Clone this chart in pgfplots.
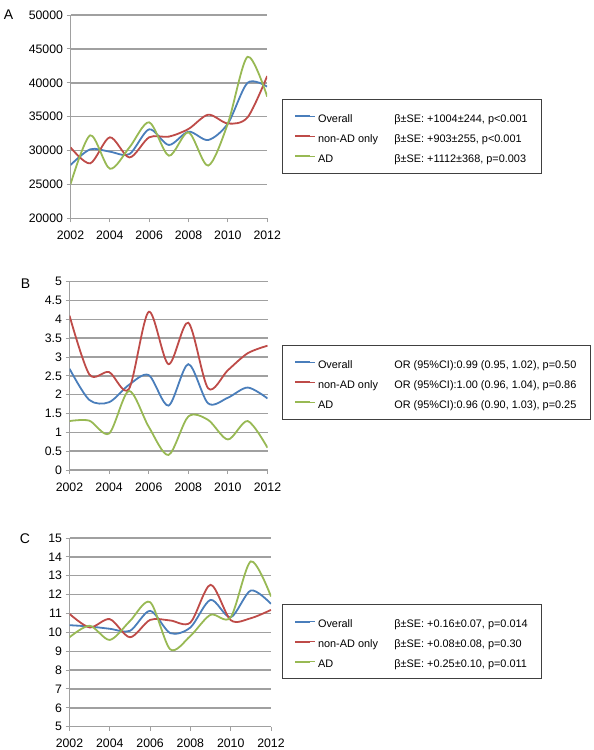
\documentclass[border=0pt]{standalone}
\usepackage{fontspec}
\setmainfont{Liberation Sans}
\usepackage{pgfplots}
\usepackage{pgfplotstable}
\pgfplotsset{compat=1.18}
\definecolor{cblue}{RGB}{74,126,187}
\definecolor{cred}{RGB}{190,75,72}
\definecolor{cgreen}{RGB}{152,185,84}
\definecolor{gridgray}{RGB}{160,160,160}

\pgfplotstableread{
year overall nonad ad
2002 27880 30490 25050
2003 30200 28130 32260
2004 29850 31970 27340
2005 29500 29000 30500
2006 33150 31970 34180
2007 30840 32070 29260
2008 32800 33200 32700
2009 31570 35300 27800
2010 34000 34000 34000
2011 40000 34900 43830
2012 39440 41000 37970
}\tableA

\pgfplotstableread{
year overall nonad ad
2002 2.69 4.10 1.30
2003 1.86 2.54 1.31
2004 1.80 2.60 0.97
2005 2.26 2.15 2.10
2006 2.52 4.20 1.15
2007 1.71 2.81 0.40
2008 2.81 3.91 1.42
2009 1.77 2.17 1.33
2010 1.92 2.65 0.81
2011 2.19 3.10 1.30
2012 1.90 3.30 0.59
}\tableB

\pgfplotstableread{
year overall nonad ad
2002 10.38 10.98 9.74
2003 10.31 10.26 10.35
2004 10.19 10.70 9.60
2005 10.08 9.74 10.60
2006 11.14 10.66 11.60
2007 9.96 10.63 9.10
2008 10.26 10.52 9.81
2009 11.72 12.52 10.93
2010 10.80 10.65 10.80
2011 12.22 10.75 13.76
2012 11.51 11.19 11.90
}\tableC

\pgfplotsset{
 panel/.style={
  scale only axis,
  xmin=2002, xmax=2012,
  xtick={2002,2004,...,2012},
  axis x line*=bottom, axis y line*=left,
  axis line style={gridgray, line width=1.4bp},
  ymajorgrids, grid style={gridgray, line width=1.4bp},
  tick align=outside, major tick length=4bp,
  tick style={gridgray, line width=1bp},
  scaled y ticks=false,
  ticklabel style={font=\fontsize{12.3bp}{14bp}\selectfont},
  xticklabel style={yshift=-5bp},
  /pgf/number format/assume math mode=true,
  /pgf/number format/1000 sep={},
  every axis plot/.append style={smooth, tension=0.5, line width=1.8bp},
  legend cell align=left,
  legend image code/.code={\draw[##1, line width=2bp] (0bp,0bp) -- (15bp,0bp); \path (0bp,0bp) -- (19.7bp,0bp);},
  legend style={draw=black!75, line width=0.9bp, anchor=north west, inner xsep=12bp, inner ysep=8bp, row sep=2bp,
    nodes={inner sep=2bp, text height=13.3bp, text depth=0.7bp},
    font=\fontsize{10.9bp}{13bp}\selectfont},
 }
}

\begin{document}
\begin{tikzpicture}
\path[use as bounding box] (0bp,0bp) rectangle (594bp,-750bp);

\node[font=\fontsize{14bp}{16bp}\selectfont] at (8.5bp,-15bp) {A};
\node[font=\fontsize{14bp}{16bp}\selectfont] at (25.5bp,-284bp) {B};
\node[font=\fontsize{14bp}{16bp}\selectfont] at (25bp,-538.5bp) {C};

% Panel A
\begin{axis}[panel, at={(70.5bp,-15bp)}, anchor=north west,
  width=196.7bp, height=203.5bp,
  ymin=20000, ymax=50000, ytick={20000,25000,...,50000},
  legend style={at={(1.0752,0.587)}}]
\addplot[cblue] table[x=year,y=overall]{\tableA};
\addlegendentry{\makebox[76.3bp][l]{Overall}β±SE: +1004±244, p<0.001}
\addplot[cred] table[x=year,y=nonad]{\tableA};
\addlegendentry{\makebox[76.3bp][l]{non-AD only}β±SE: +903±255, p<0.001}
\addplot[cgreen] table[x=year,y=ad]{\tableA};
\addlegendentry{\makebox[76.3bp][l]{AD}β±SE: +1112±368, p=0.003}
\end{axis}

% Panel B
\begin{axis}[panel, at={(69.5bp,-281.7bp)}, anchor=north west,
  width=198bp, height=188.3bp,
  ymin=0, ymax=5, ytick={0,0.5,...,5},
  legend style={at={(1.073,0.664)}}]
\addplot[cblue] table[x=year,y=overall]{\tableB};
\addlegendentry{\makebox[76.3bp][l]{Overall}OR (95\%CI):0.99 (0.95, 1.02), p=0.50}
\addplot[cred] table[x=year,y=nonad]{\tableB};
\addlegendentry{\makebox[76.3bp][l]{non-AD only}OR (95\%CI):1.00 (0.96, 1.04), p=0.86}
\addplot[cgreen] table[x=year,y=ad]{\tableB};
\addlegendentry{\makebox[76.3bp][l]{AD}OR (95\%CI):0.96 (0.90, 1.03), p=0.25}
\end{axis}

% Panel C
\begin{axis}[panel, at={(69.5bp,-538bp)}, anchor=north west,
  width=201.5bp, height=188.7bp,
  ymin=5, ymax=15, ytick={5,6,...,15},
  legend style={at={(1.0546,0.650)}}]
\addplot[cblue] table[x=year,y=overall]{\tableC};
\addlegendentry{\makebox[76.3bp][l]{Overall}β±SE: +0.16±0.07, p=0.014}
\addplot[cred] table[x=year,y=nonad]{\tableC};
\addlegendentry{\makebox[76.3bp][l]{non-AD only}β±SE: +0.08±0.08, p=0.30}
\addplot[cgreen] table[x=year,y=ad]{\tableC};
\addlegendentry{\makebox[76.3bp][l]{AD}β±SE: +0.25±0.10, p=0.011}
\end{axis}
\end{tikzpicture}
\end{document}
